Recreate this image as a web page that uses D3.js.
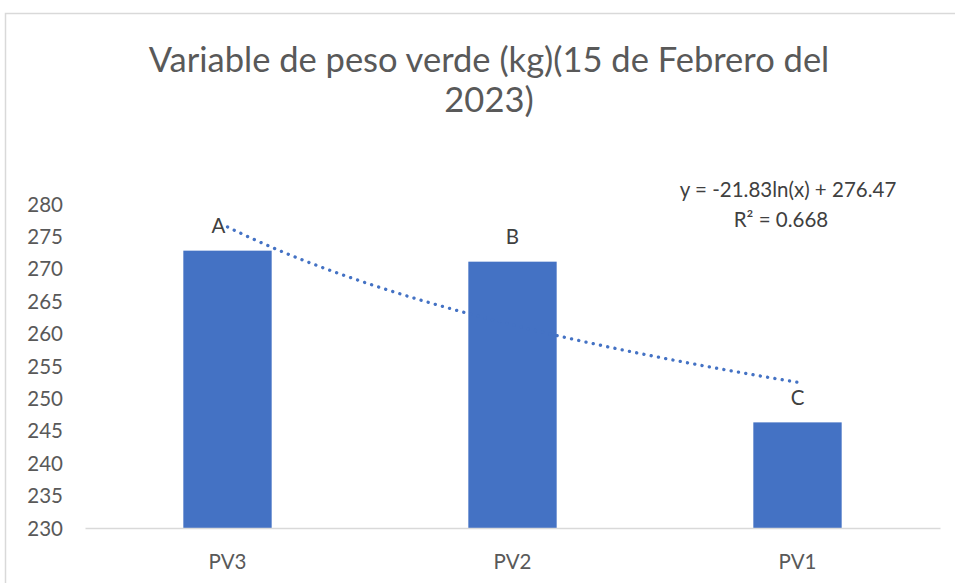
<!DOCTYPE html>
<html><head><meta charset="utf-8">
<script src="https://cdn.jsdelivr.net/npm/d3@7"></script>
<style>body{margin:0;background:#fff;}svg{display:block;font-family:Lato,"Open Sans",sans-serif;}</style>
</head><body>
<script>
const categories = ["PV3","PV2","PV1"];
const values = [272.8, 271.1, 246.3];
const pointLabels = ["A","B","C"];
const yTicks = [230,235,240,245,250,255,260,265,270,275,280];
const trendA = -21.83, trendB = 276.47;
const titleLines = ["Variable de peso verde (kg)(15 de Febrero del","2023)"];
const eqLines = ["y = -21.83ln(x) + 276.47","R² = 0.668"];

(function(){
const W=955,H=583;
const FS=20.5;
const svg=d3.select("body").append("svg").attr("width",W).attr("height",H);
svg.append("rect").attr("width",W).attr("height",H).attr("fill","#fff");
svg.append("path").attr("d","M5.5,600 V13.5 H970").attr("fill","none").attr("stroke","#d9d9d9").attr("stroke-width",1.5);

const pLeft=85,pRight=940,pTop=204,pBottom=528;
const x=d3.scaleBand().domain(categories).range([pLeft,pRight]).paddingInner(0.69).paddingOuter(0.345);
const y=d3.scaleLinear().domain([230,280]).range([pBottom,pTop]);

svg.append("text").attr("x",489).attr("fill","#595959").attr("font-size",34.5).attr("text-anchor","middle")
  .selectAll("tspan").data(titleLines).join("tspan").attr("x",489).attr("y",(d,i)=>72+i*40).text(d=>d);

svg.selectAll("rect.bar").data(values).join("rect").attr("class","bar")
  .attr("x",(d,i)=>x(categories[i])).attr("width",x.bandwidth())
  .attr("y",d=>y(d)).attr("height",d=>y(230)-y(d)).attr("fill","#4472C4");

const yAxis=d3.axisLeft(y).tickValues(yTicks).tickSize(0).tickPadding(0);
const gy=svg.append("g").attr("transform",`translate(${pLeft-22},0)`).call(yAxis);
gy.select(".domain").remove();
gy.selectAll("text").attr("fill","#595959").attr("font-size",FS).attr("font-family","Lato,'Open Sans',sans-serif").attr("dy","0.35em");

const xAxis=d3.axisBottom(x).tickSize(0).tickPadding(0);
const gx=svg.append("g").attr("transform",`translate(0,${pBottom})`).call(xAxis);
gx.select(".domain").attr("stroke","#d9d9d9").attr("stroke-width",1.5);
gx.selectAll("text").attr("fill","#595959").attr("font-size",FS).attr("font-family","Lato,'Open Sans',sans-serif").attr("y",34).attr("dy","0.35em");

svg.selectAll("text.pl").data(values).join("text").attr("class","pl")
  .attr("x",(d,i)=>x(categories[i])+x.bandwidth()/2-(i===0?9:0)).attr("y",d=>y(d)-25).attr("dy","0.35em")
  .attr("text-anchor","middle").attr("font-size",FS).attr("fill","#404040").text((d,i)=>pointLabels[i]);

const cx=i=>x(categories[i])+x.bandwidth()/2;
const tx=d3.scaleLinear().domain([1,3]).range([cx(0),cx(2)]);
const pts=d3.range(0,101).map(k=>1+k*0.02);
svg.append("path").datum(pts)
  .attr("d",d3.line().x(t=>tx(t)).y(t=>y(trendA*Math.log(t)+trendB)))
  .attr("fill","none").attr("stroke","#4472C4").attr("stroke-width",3.3)
  .attr("stroke-dasharray","0.1 7.3").attr("stroke-linecap","round");

svg.append("text").attr("text-anchor","middle").attr("font-size",FS).attr("fill","#404040")
  .selectAll("tspan").data(eqLines).join("tspan").attr("x",(d,i)=>i?781:788).attr("y",(d,i)=>190+i*30).attr("dy","0.35em").text(d=>d);
})();
</script>
</body></html>
